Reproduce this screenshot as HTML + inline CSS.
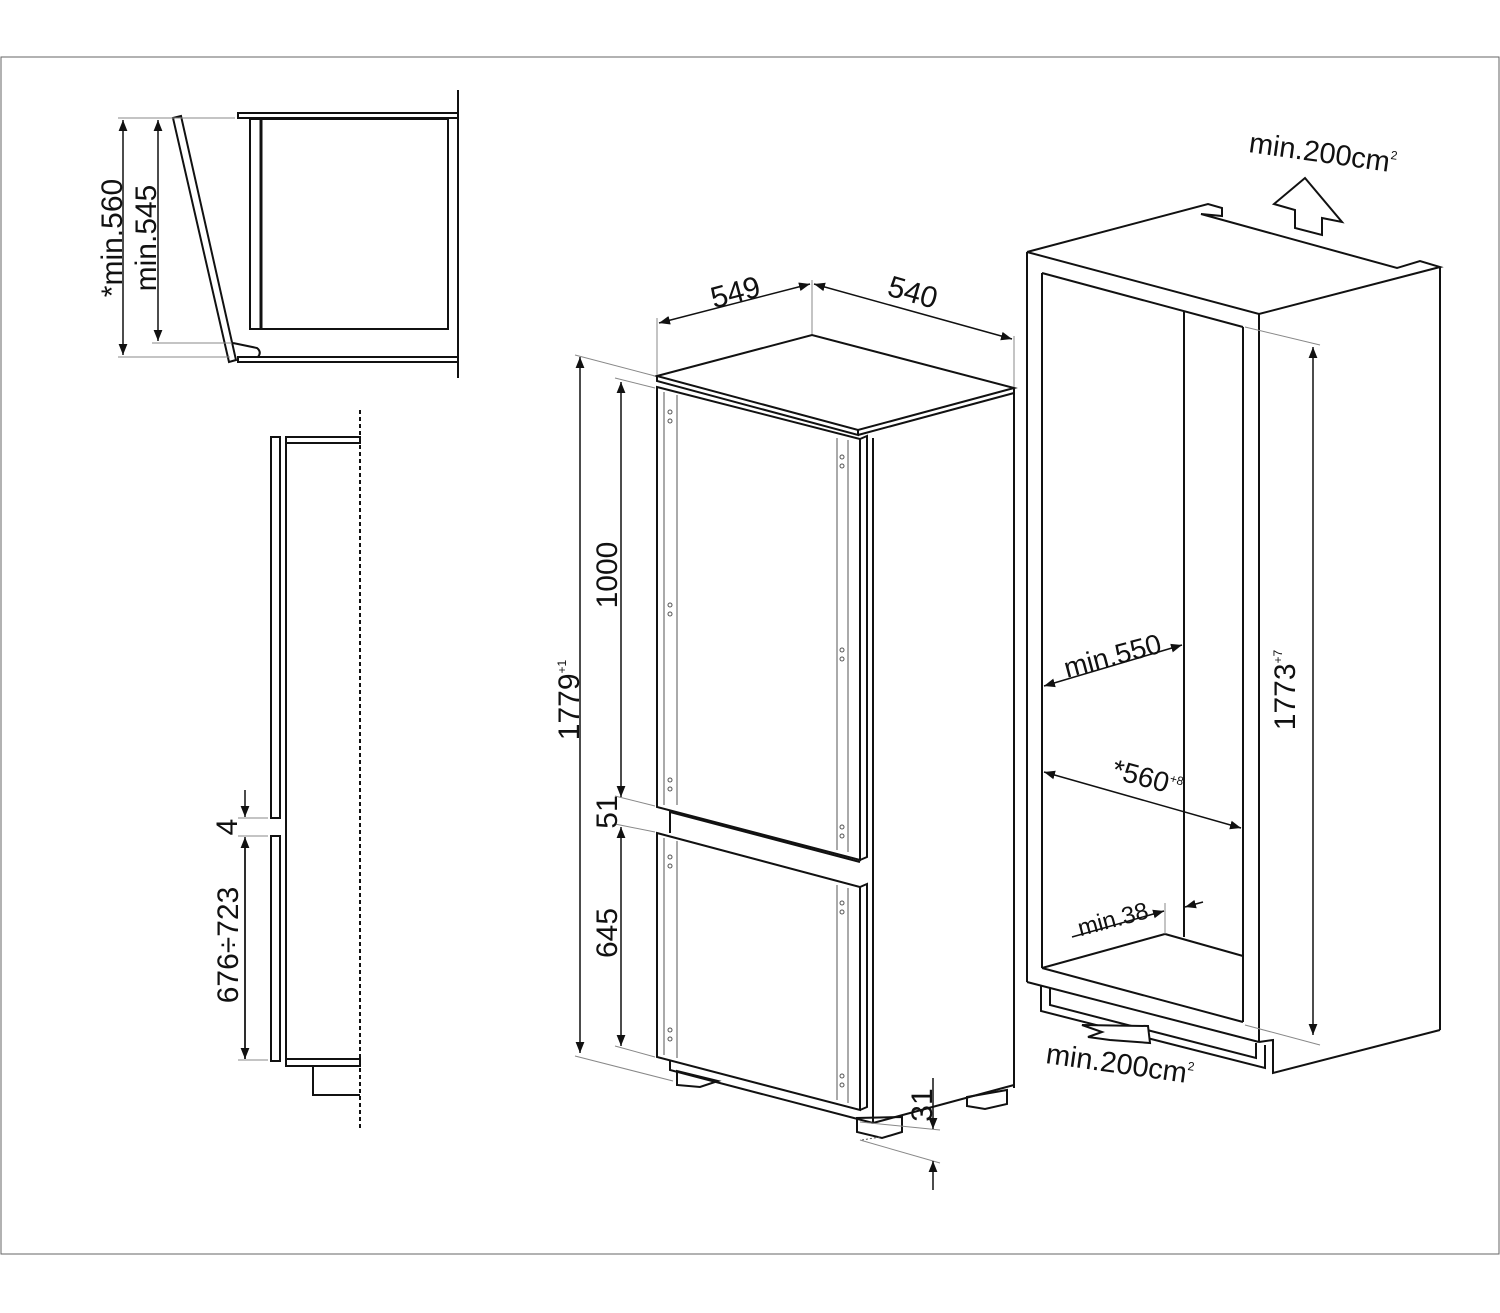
<!DOCTYPE html>
<html><head><meta charset="utf-8"><style>
html,body{margin:0;padding:0;background:#fff}
svg{display:block}
text{font-family:"Liberation Sans",Arial,sans-serif;fill:#111}
</style></head><body>
<svg width="1500" height="1313" viewBox="0 0 1500 1313" xmlns="http://www.w3.org/2000/svg">
<defs>
<marker id="a" viewBox="0 0 10 10" refX="10" refY="5" markerWidth="11" markerHeight="11" markerUnits="userSpaceOnUse" orient="auto-start-reverse"><path d="M0,1 L10,5 L0,9 Z" fill="#111"/></marker>
</defs>
<rect x="1" y="57" width="1498" height="1197" fill="none" stroke="#666" stroke-width="1"/>
<g fill="none" stroke="#111" stroke-width="2">
<line x1="458" y1="90" x2="458" y2="378"/>
<rect x="238" y="113" width="220" height="5"/>
<rect x="238" y="357" width="220" height="5"/>
<rect x="250" y="119" width="198" height="210"/>
<line x1="261" y1="119" x2="261" y2="329" stroke-width="3"/>
<polygon points="173,118 181,116 236,360 229,362"/>
<path d="M233,343 L257,348 Q262,352 258,357"/>
</g>
<g stroke="#888" stroke-width="1">
<line x1="118" y1="118" x2="235" y2="118"/>
<line x1="118" y1="357" x2="230" y2="357"/>
<line x1="152" y1="343" x2="232" y2="343"/>
</g>
<g stroke="#111" stroke-width="1.5">
<line x1="123" y1="120" x2="123" y2="355" marker-start="url(#a)" marker-end="url(#a)"/>
<line x1="158" y1="120" x2="158" y2="341" marker-start="url(#a)" marker-end="url(#a)"/>
</g>
<text transform="translate(122,238) rotate(-90)" text-anchor="middle" font-size="30">*min.560</text>
<text transform="translate(156,238) rotate(-90)" text-anchor="middle" font-size="30">min.545</text>

<g fill="none" stroke="#111" stroke-width="2">
<rect x="271" y="437" width="9" height="381"/>
<rect x="271" y="836" width="9" height="225"/>
<line x1="286" y1="437" x2="286" y2="1066"/>
<rect x="286" y="437" width="74" height="6"/>
<rect x="286" y="1059" width="74" height="7"/>
<polyline points="313,1066 313,1095 360,1095"/>
</g>
<line x1="360" y1="410" x2="360" y2="1130" stroke="#111" stroke-width="2" stroke-dasharray="4,3"/>
<g stroke="#888" stroke-width="1">
<line x1="238" y1="818" x2="268" y2="818"/>
<line x1="238" y1="836" x2="268" y2="836"/>
<line x1="238" y1="1060" x2="268" y2="1060"/>
</g>
<g stroke="#111" stroke-width="1.5">
<line x1="245" y1="790" x2="245" y2="817" marker-end="url(#a)"/>
<line x1="245" y1="1059" x2="245" y2="837" marker-end="url(#a)"/>
<line x1="245" y1="845" x2="245" y2="1059" marker-end="url(#a)"/>
</g>
<text transform="translate(237,827) rotate(-90)" text-anchor="middle" font-size="30">4</text>
<text transform="translate(238,945) rotate(-90)" text-anchor="middle" font-size="30">676÷723</text>

<g fill="none" stroke="#111" stroke-width="2">
<polygon points="657,376 812,335 1014,388 858,430"/>
<polyline points="657,376 657,381 858,435 858,430"/>
<line x1="858" y1="435" x2="1014" y2="393"/>
<line x1="1014" y1="388" x2="1014" y2="1088"/>
<line x1="873" y1="438" x2="873" y2="1123"/>
<line x1="873" y1="1123" x2="1014" y2="1085"/>
<polygon points="657,387 860,439 860,860 657,807"/>
<polyline points="860,439 867,436 867,857 860,860"/>
<polygon points="657,833 860,887 860,1110 657,1057"/>
<polyline points="860,887 867,884 867,1107 860,1110"/>
<line x1="670" y1="810" x2="670" y2="833"/>
<line x1="670" y1="812" x2="860" y2="862"/>
<polyline points="670,1060 670,1070 873,1123"/>
<polygon points="677,1071 677,1085 700,1087 718,1081"/>
<polygon points="857,1118 857,1132 882,1138 902,1132 902,1117"/>
<polygon points="967,1097 967,1106 985,1109 1007,1104 1007,1090"/>
</g>
<g fill="none" stroke="#555" stroke-width="1">
<line x1="664" y1="392" x2="664" y2="805"/><line x1="677" y1="395" x2="677" y2="805"/>
<line x1="837" y1="438" x2="837" y2="850"/><line x1="848" y1="440" x2="848" y2="852"/>
<line x1="664" y1="838" x2="664" y2="1055"/><line x1="677" y1="841" x2="677" y2="1058"/>
<line x1="837" y1="885" x2="837" y2="1100"/><line x1="848" y1="888" x2="848" y2="1103"/>
<line x1="862" y1="1140" x2="880" y2="1137" stroke-dasharray="2,2"/>
</g>
<g fill="#fff" stroke="#555" stroke-width="1">
<circle cx="670" cy="412" r="2"/><circle cx="670" cy="421" r="2"/>
<circle cx="670" cy="605" r="2"/><circle cx="670" cy="614" r="2"/>
<circle cx="670" cy="780" r="2"/><circle cx="670" cy="789" r="2"/>
<circle cx="842" cy="457" r="2"/><circle cx="842" cy="466" r="2"/>
<circle cx="842" cy="650" r="2"/><circle cx="842" cy="659" r="2"/>
<circle cx="842" cy="827" r="2"/><circle cx="842" cy="836" r="2"/>
<circle cx="670" cy="857" r="2"/><circle cx="670" cy="866" r="2"/>
<circle cx="670" cy="1030" r="2"/><circle cx="670" cy="1039" r="2"/>
<circle cx="842" cy="903" r="2"/><circle cx="842" cy="912" r="2"/>
<circle cx="842" cy="1076" r="2"/><circle cx="842" cy="1085" r="2"/>
</g>
<g stroke="#888" stroke-width="1">
<line x1="657" y1="318" x2="657" y2="375"/>
<line x1="812" y1="280" x2="812" y2="334"/>
<line x1="1014" y1="336" x2="1014" y2="387"/>
<line x1="575" y1="355" x2="655" y2="376"/>
<line x1="615" y1="378" x2="655" y2="388"/>
<line x1="615" y1="796" x2="655" y2="806"/>
<line x1="615" y1="824" x2="655" y2="832"/>
<line x1="615" y1="1046" x2="655" y2="1057"/>
<line x1="575" y1="1056" x2="673" y2="1081"/>
<line x1="860" y1="1122" x2="940" y2="1130"/>
<line x1="860" y1="1140" x2="940" y2="1163"/>
</g>
<g stroke="#111" stroke-width="1.5">
<line x1="659" y1="323" x2="810" y2="284" marker-start="url(#a)" marker-end="url(#a)"/>
<line x1="814" y1="284" x2="1012" y2="339" marker-start="url(#a)" marker-end="url(#a)"/>
<line x1="580" y1="357" x2="580" y2="1053" marker-start="url(#a)" marker-end="url(#a)"/>
<line x1="621" y1="382" x2="621" y2="797" marker-start="url(#a)" marker-end="url(#a)"/>
<line x1="621" y1="827" x2="621" y2="1046" marker-start="url(#a)" marker-end="url(#a)"/>
<line x1="933" y1="1078" x2="933" y2="1129" marker-end="url(#a)"/>
<line x1="933" y1="1190" x2="933" y2="1161" marker-end="url(#a)"/>
</g>
<text transform="translate(738,302) rotate(-15)" text-anchor="middle" font-size="30">549</text>
<text transform="translate(910,302) rotate(16)" text-anchor="middle" font-size="30">540</text>
<text transform="translate(579,700) rotate(-90)" text-anchor="middle" font-size="30">1779<tspan font-size="12" dy="-13">+1</tspan></text>
<text transform="translate(617,575) rotate(-90)" text-anchor="middle" font-size="30">1000</text>
<text transform="translate(617,812) rotate(-90)" text-anchor="middle" font-size="30">51</text>
<text transform="translate(617,933) rotate(-90)" text-anchor="middle" font-size="30">645</text>
<text transform="translate(932,1105) rotate(-90)" text-anchor="middle" font-size="30">31</text>

<g fill="none" stroke="#111" stroke-width="2">
<polyline points="1027,252 1208,204 1222,208 1222,216 1201,214 1397,268 1420,261 1440,267 1259,314 1027,252"/>
<line x1="1027" y1="252" x2="1027" y2="982"/>
<line x1="1440" y1="267" x2="1440" y2="1030"/>
<line x1="1259" y1="314" x2="1259" y2="1042"/>
<line x1="1042" y1="273" x2="1042" y2="968"/>
<line x1="1042" y1="273" x2="1243" y2="327"/>
<line x1="1243" y1="327" x2="1243" y2="1022"/>
<line x1="1184" y1="312" x2="1184" y2="937"/>
<line x1="1042" y1="968" x2="1165" y2="934"/>
<line x1="1165" y1="934" x2="1243" y2="956"/>
<line x1="1027" y1="982" x2="1259" y2="1042"/>
<line x1="1042" y1="968" x2="1243" y2="1022"/>
<polyline points="1259,1042 1273,1040 1273,1073 1440,1030"/>
<polyline points="1041,985 1041,1011 1265,1068 1265,1045"/>
<polyline points="1050,988 1050,1005 1256,1058 1256,1043"/>
<polygon points="1082,1025 1148,1026 1150,1043 1110,1040 1088,1037 1102,1032" fill="#fff"/>
<polygon points="1305,178 1342,222 1322,218 1322,235 1295,228 1295,210 1274,204"/>
</g>
<g stroke="#888" stroke-width="1">
<line x1="1245" y1="327" x2="1320" y2="345"/>
<line x1="1245" y1="1025" x2="1320" y2="1045"/>
<line x1="1165" y1="903" x2="1165" y2="934"/>
</g>
<g stroke="#111" stroke-width="1.5">
<line x1="1313" y1="347" x2="1313" y2="1035" marker-start="url(#a)" marker-end="url(#a)"/>
<line x1="1044" y1="686" x2="1182" y2="645" marker-start="url(#a)" marker-end="url(#a)"/>
<line x1="1044" y1="772" x2="1241" y2="828" marker-start="url(#a)" marker-end="url(#a)"/>
<line x1="1072" y1="937" x2="1164" y2="911" marker-end="url(#a)"/>
<line x1="1203" y1="902" x2="1185" y2="907" marker-end="url(#a)"/>
</g>
<text transform="translate(1295,690) rotate(-90)" text-anchor="middle" font-size="30">1773<tspan font-size="12" dy="-13">+7</tspan></text>
<text transform="translate(1115,665) rotate(-15)" text-anchor="middle" font-size="28">min.550</text>
<text transform="translate(1145,787) rotate(15)" text-anchor="middle" font-size="28">*560<tspan font-size="12" dy="-11">+8</tspan></text>
<text transform="translate(1115,927) rotate(-15)" text-anchor="middle" font-size="24">min.38</text>
<text transform="translate(1248,152) rotate(8)" font-size="29">min.200cm<tspan font-size="12" dy="-13">2</tspan></text>
<text transform="translate(1045,1063) rotate(8)" font-size="29">min.200cm<tspan font-size="12" dy="-13">2</tspan></text>
</svg>
</body></html>
